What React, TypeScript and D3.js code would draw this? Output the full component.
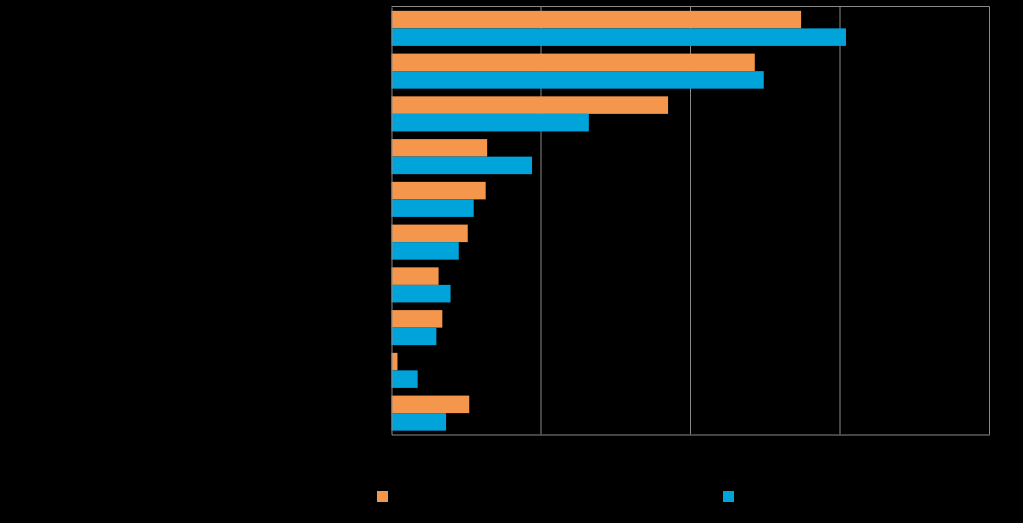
import React, { useEffect, useRef } from "react";
import * as d3 from "d3";

const categories = ["Category 1", "Category 2", "Category 3", "Category 4", "Category 5", "Category 6", "Category 7", "Category 8", "Category 9", "Category 10"];
const seriesNames = ["Series A", "Series B"];
const seriesA = [27.4, 24.3, 18.5, 6.4, 6.3, 5.1, 3.15, 3.4, 0.4, 5.2];
const seriesB = [30.4, 24.9, 13.2, 9.4, 5.5, 4.5, 3.95, 3.0, 1.75, 3.65];
const xTicks = [0, 10, 20, 30, 40];
const colors = ["#F4964C", "#00A3DA"];

const W = 1023;
const H = 523;
const M = { left: 391.5, right: 33.5, top: 6.5, bottom: 88.5 };

export default function App() {
  const ref = useRef<SVGSVGElement>(null);
  useEffect(() => {
    const svg = d3.select(ref.current);
    svg.selectAll("*").remove();
    svg.append("rect").attr("width", W).attr("height", H).attr("fill", "#000");

    const x = d3.scaleLinear().domain([0, 40]).range([M.left, W - M.right]);
    const y = d3.scaleBand().domain(categories).range([M.top + 0.5, H - M.bottom]).paddingInner(0.18).paddingOuter(0.09);
    const sub = d3.scaleBand().domain(seriesNames).range([0, y.bandwidth()]);

    const g = svg.append("g");
    g.selectAll("line.grid").data(xTicks.slice(1)).join("line")
      .attr("x1", (d) => x(d)).attr("x2", (d) => x(d))
      .attr("y1", M.top).attr("y2", H - M.bottom)
      .attr("stroke", "#8a8a8a").attr("stroke-width", 1);
    g.append("line").attr("x1", M.left).attr("x2", x(40)).attr("y1", M.top).attr("y2", M.top)
      .attr("stroke", "#8a8a8a");

    const data = [seriesA, seriesB];
    data.forEach((vals, si) => {
      g.selectAll(`rect.s${si}`).data(vals).join("rect")
        .attr("x", x(0))
        .attr("y", (_, i) => (y(categories[i]) as number) + (sub(seriesNames[si]) as number))
        .attr("width", (d) => x(d) - x(0))
        .attr("height", sub.bandwidth())
        .attr("fill", colors[si]);
    });

    const xa = g.append("g").attr("transform", `translate(0,${H - M.bottom})`)
      .call(d3.axisBottom(x).tickValues(xTicks).tickSize(0).tickPadding(8).tickFormat((d) => `${d}%`));
    xa.select(".domain").attr("stroke", "#8a8a8a");
    xa.selectAll("text").attr("fill", "#000").style("font-family", "Liberation Sans").style("font-size", "12px");

    const ya = g.append("g").attr("transform", `translate(${M.left},0)`)
      .call(d3.axisLeft(y).tickSize(0).tickPadding(8));
    ya.select(".domain").attr("stroke", "#8a8a8a");
    ya.selectAll("text").attr("fill", "#000").style("font-family", "Liberation Sans").style("font-size", "12px");

    const lg = svg.append("g");
    const lx = [377, 723];
    seriesNames.forEach((n, i) => {
      lg.append("rect").attr("x", lx[i]).attr("y", 491).attr("width", 11).attr("height", 11).attr("fill", colors[i]);
      lg.append("text").attr("x", lx[i] + 17).attr("y", 501).text(n).attr("fill", "#000")
        .style("font-family", "Liberation Sans").style("font-size", "12px");
    });
  }, []);
  return (
    <svg ref={ref} width={W} height={H} style={{ position: "absolute", left: 0, top: 0, display: "block" }} />
  );
}
